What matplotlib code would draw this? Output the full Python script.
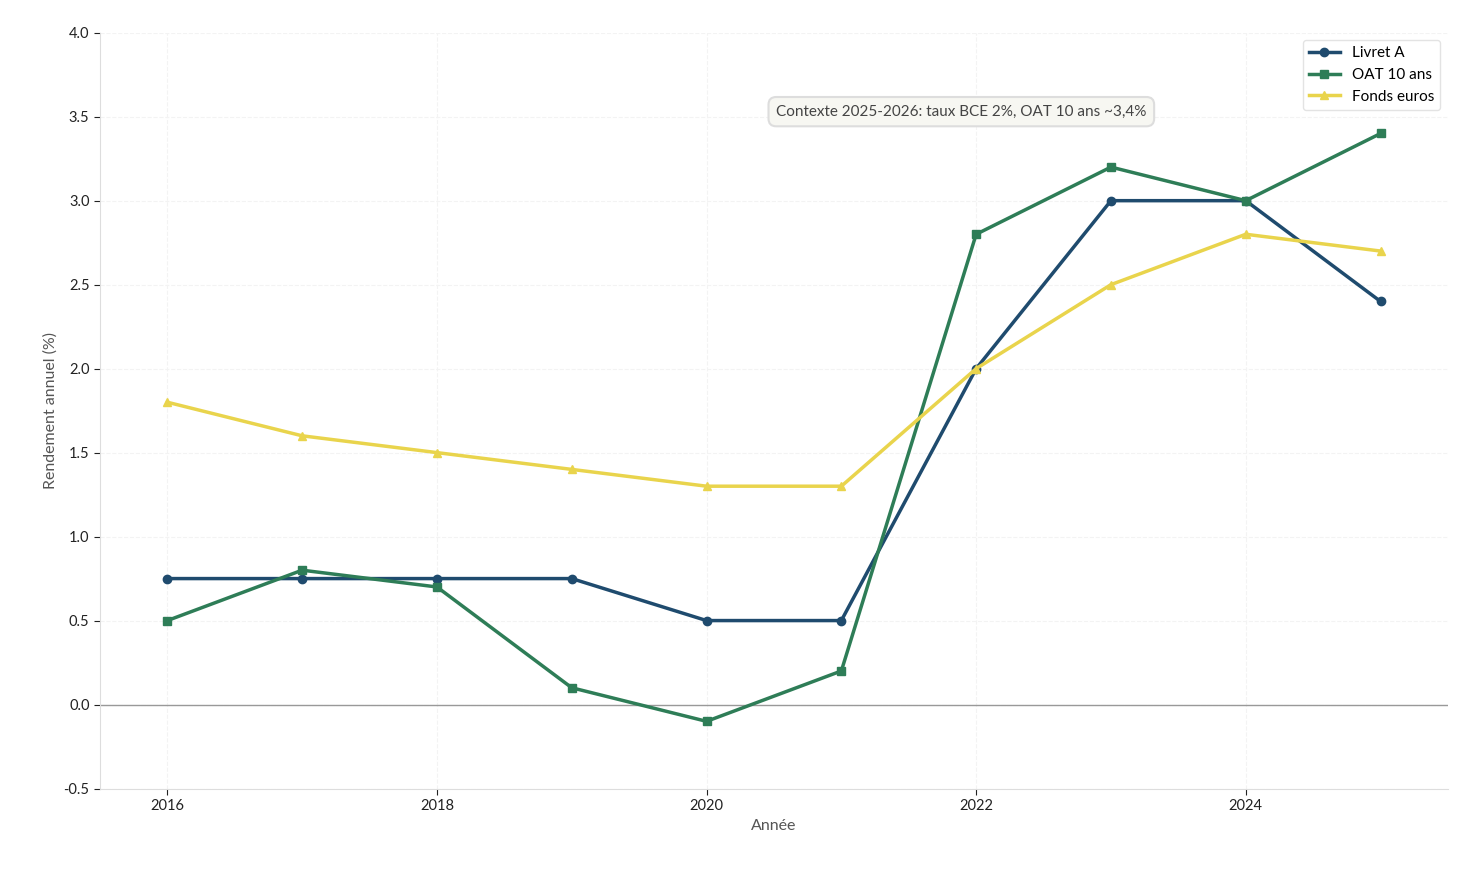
import matplotlib.pyplot as plt

plt.rcParams['font.family'] = ['Lato', 'DejaVu Sans']

annees = [2016, 2017, 2018, 2019, 2020, 2021, 2022, 2023, 2024, 2025]
livret_a = [0.75, 0.75, 0.75, 0.75, 0.5, 0.5, 2.0, 3.0, 3.0, 2.4]
oat_10 = [0.5, 0.8, 0.7, 0.1, -0.1, 0.2, 2.8, 3.2, 3.0, 3.4]
fonds_euros = [1.8, 1.6, 1.5, 1.4, 1.3, 1.3, 2.0, 2.5, 2.8, 2.7]

fig, ax = plt.subplots(figsize=(14.7, 8.84), dpi=100)
fig.subplots_adjust(left=0.068, right=0.985, top=0.963, bottom=0.108)

ax.plot(annees, livret_a, color='#1f4b6e', lw=2.5, marker='o', ms=6, label='Livret A', zorder=3)
ax.plot(annees, oat_10, color='#2e7d57', lw=2.5, marker='s', ms=6, label='OAT 10 ans', zorder=3)
ax.plot(annees, fonds_euros, color='#e9d44c', lw=2.5, marker='^', ms=6, label='Fonds euros', zorder=3)

ax.axhline(0, color='#999999', lw=1, zorder=2)

ax.set_xlim(2015.5, 2025.5)
ax.set_ylim(-0.5, 4.0)
ax.set_xticks([2016, 2018, 2020, 2022, 2024])
ax.set_yticks([-0.5, 0, 0.5, 1.0, 1.5, 2.0, 2.5, 3.0, 3.5, 4.0])
ax.yaxis.set_major_formatter(plt.FormatStrFormatter('%.1f'))
ax.grid(True, ls='--', color='#f3f3f3', lw=0.8, zorder=0)
ax.set_axisbelow(True)

for s in ['top', 'right']:
    ax.spines[s].set_visible(False)
for s in ['left', 'bottom']:
    ax.spines[s].set_color('#dddddd')
ax.tick_params(labelsize=10.5, colors='#222222', length=4)

ax.set_xlabel('Année', fontsize=11.5, color='#555555')
ax.set_ylabel('Rendement annuel (%)', fontsize=11.5, color='#555555')

ax.text(2021.89, 3.53, 'Contexte 2025-2026: taux BCE 2%, OAT 10 ans ~3,4%',
        ha='center', va='center', fontsize=11, color='#444444',
        bbox=dict(boxstyle='round,pad=0.5', fc='#f7f7f2', ec='#dddddd', lw=1.5))

leg = ax.legend(loc='upper right', fontsize=11, frameon=True, labelspacing=0.5)
leg.get_frame().set_edgecolor('#dddddd')

plt.savefig('out.png')
